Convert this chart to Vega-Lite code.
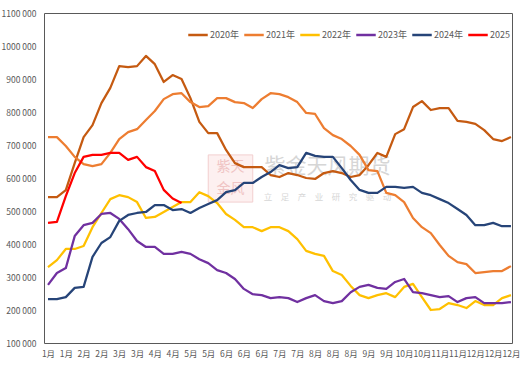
{
  "$schema": "https://vega.github.io/schema/vega-lite/v6.json",
  "width": 468,
  "height": 330,
  "autosize": {"type": "none"},
  "padding": {"left": 44, "top": 13, "right": 15, "bottom": 31},
  "background": "white",
  "config": {
    "view": {"stroke": "#595959", "strokeWidth": 1},
    "font": "Noto Sans CJK SC",
    "axis": {"labelFont": "Noto Sans CJK SC", "labelColor": "#595959", "labelFontSize": 8.5, "ticks": false, "grid": false, "domain": false, "title": null, "labelOverlap": false}
  },
  "encoding": {
    "x": {
      "field": "w", "type": "quantitative",
      "scale": {"domain": [0.55, 53.12], "nice": false, "zero": false},
      "axis": {
        "values": [1,3,5,7,9,11,13,15,17,19,21,23,25,27,29,31,33,35,37,39,41,43,45,47,49,51,53],
        "labelExpr": "['1月','1月','2月','2月','3月','3月','4月','4月','5月','5月','6月','6月','6月','7月','7月','8月','8月','8月','9月','9月','10月','10月','11月','11月','12月','12月','12月'][(datum.value-1)/2]",
        "labelPadding": 6, "labelOverlap": false, "labelFlush": false, "labelBound": false
      }
    },
    "y": {
      "field": "v", "type": "quantitative",
      "scale": {"domain": [100000, 1100000], "nice": false, "zero": false},
      "axis": {
        "values": [100000,200000,300000,400000,500000,600000,700000,800000,900000,1000000,1100000],
        "labelExpr": "(datum.value/1000) + ' 000'",
        "labelPadding": 8, "labelFontSize": 8.5, "labelOverlap": false, "labelFlush": false, "labelBound": false
      }
    }
  },
  "layer": [
    {
      "data": {"values": [{"w": 19.0, "w2": 24.0, "v": 527000, "v2": 670000}]},
      "mark": {"type": "rect", "fill": "#fdf0f0", "stroke": "#f2cfcf", "strokeWidth": 1},
      "encoding": {
        "x2": {"field": "w2"},
        "y2": {"field": "v2"}
      }
    },
    {
      "data": {"values": [
        {"t": "紫天", "w": 21.5, "v": 633000},
        {"t": "金风", "w": 21.5, "v": 567000}
      ]},
      "mark": {"type": "text", "color": "#f0c4c4", "align": "center", "baseline": "middle", "fontSize": 14},
      "encoding": {
        "text": {"field": "t"}
      }
    },
    {
      "data": {"values": [
        {"t": "紫金天风期货", "w": 32.4, "v": 633000, "k": "big"},
        {"t": "立　足　产　业　研　究　驱　动", "w": 32.4, "v": 542000, "k": "small"}
      ]},
      "mark": {"type": "text", "color": "#d6d6d6", "align": "center", "baseline": "middle"},
      "encoding": {
        "text": {"field": "t"},
        "size": {"field": "k", "type": "nominal", "scale": {"domain": ["big", "small"], "range": [21, 8.5]}, "legend": null}
      }
    },
    {
      "data": {"values": [
        {"w":1,"2020年":542000,"2021年":724000,"2022年":330000,"2023年":276000,"2024年":233000,"2025":464000},
        {"w":2,"2020年":542000,"2021年":724000,"2022年":351000,"2023年":312000,"2024年":233000,"2025":467000},
        {"w":3,"2020年":563000,"2021年":697000,"2022年":385000,"2023年":327000,"2024年":239000,"2025":545000},
        {"w":4,"2020年":645000,"2021年":664000,"2022年":385000,"2023年":424000,"2024年":267000,"2025":615000},
        {"w":5,"2020年":724000,"2021年":642000,"2022年":394000,"2023年":457000,"2024年":270000,"2025":664000},
        {"w":6,"2020年":760000,"2021年":636000,"2022年":451000,"2023年":464000,"2024年":361000,"2025":670000},
        {"w":7,"2020年":827000,"2021年":642000,"2022年":494000,"2023年":491000,"2024年":403000,"2025":670000},
        {"w":8,"2020年":873000,"2021年":676000,"2022年":536000,"2023年":494000,"2024年":421000,"2025":676000},
        {"w":9,"2020年":939000,"2021年":718000,"2022年":548000,"2023年":476000,"2024年":470000,"2025":676000},
        {"w":10,"2020年":936000,"2021年":739000,"2022年":542000,"2023年":445000,"2024年":488000,"2025":655000},
        {"w":11,"2020年":939000,"2021年":748000,"2022年":527000,"2023年":409000,"2024年":494000,"2025":664000},
        {"w":12,"2020年":970000,"2021年":776000,"2022年":479000,"2023年":391000,"2024年":497000,"2025":633000},
        {"w":13,"2020年":945000,"2021年":803000,"2022年":482000,"2023年":391000,"2024年":518000,"2025":621000},
        {"w":14,"2020年":891000,"2021年":839000,"2022年":497000,"2023年":370000,"2024年":518000,"2025":564000},
        {"w":15,"2020年":912000,"2021年":854000,"2022年":512000,"2023年":370000,"2024年":503000,"2025":538000},
        {"w":16,"2020年":900000,"2021年":857000,"2022年":527000,"2023年":376000,"2024年":506000,"2025":524000},
        {"w":17,"2020年":842000,"2021年":830000,"2022年":527000,"2023年":370000,"2024年":494000},
        {"w":18,"2020年":770000,"2021年":815000,"2022年":557000,"2023年":354000,"2024年":509000},
        {"w":19,"2020年":736000,"2021年":818000,"2022年":545000,"2023年":342000,"2024年":521000},
        {"w":20,"2020年":736000,"2021年":842000,"2022年":524000,"2023年":321000,"2024年":533000},
        {"w":21,"2020年":685000,"2021年":842000,"2022年":491000,"2023年":312000,"2024年":557000},
        {"w":22,"2020年":645000,"2021年":830000,"2022年":473000,"2023年":294000,"2024年":563000},
        {"w":23,"2020年":633000,"2021年":827000,"2022年":451000,"2023年":264000,"2024年":585000},
        {"w":24,"2020年":633000,"2021年":812000,"2022年":451000,"2023年":248000,"2024年":585000},
        {"w":25,"2020年":633000,"2021年":839000,"2022年":439000,"2023年":245000,"2024年":603000},
        {"w":26,"2020年":609000,"2021年":857000,"2022年":451000,"2023年":236000,"2024年":618000},
        {"w":27,"2020年":603000,"2021年":854000,"2022年":451000,"2023年":239000,"2024年":639000},
        {"w":28,"2020年":615000,"2021年":845000,"2022年":439000,"2023年":236000,"2024年":630000},
        {"w":29,"2020年":609000,"2021年":830000,"2022年":415000,"2023年":224000,"2024年":633000},
        {"w":30,"2020年":600000,"2021年":797000,"2022年":379000,"2023年":236000,"2024年":676000},
        {"w":31,"2020年":597000,"2021年":794000,"2022年":370000,"2023年":245000,"2024年":667000},
        {"w":32,"2020年":615000,"2021年":751000,"2022年":364000,"2023年":227000,"2024年":664000},
        {"w":33,"2020年":621000,"2021年":730000,"2022年":318000,"2023年":221000,"2024年":664000},
        {"w":34,"2020年":615000,"2021年":718000,"2022年":306000,"2023年":227000,"2024年":630000},
        {"w":35,"2020年":603000,"2021年":697000,"2022年":273000,"2023年":254000,"2024年":594000},
        {"w":36,"2020年":609000,"2021年":670000,"2022年":245000,"2023年":270000,"2024年":564000},
        {"w":37,"2020年":639000,"2021年":624000,"2022年":236000,"2023年":276000,"2024年":555000},
        {"w":38,"2020年":676000,"2021年":621000,"2022年":245000,"2023年":267000,"2024年":555000},
        {"w":39,"2020年":664000,"2021年":555000,"2022年":251000,"2023年":264000,"2024年":573000},
        {"w":40,"2020年":733000,"2021年":548000,"2022年":239000,"2023年":285000,"2024年":573000},
        {"w":41,"2020年":748000,"2021年":527000,"2022年":270000,"2023年":294000,"2024年":570000},
        {"w":42,"2020年":815000,"2021年":479000,"2022年":279000,"2023年":254000,"2024年":573000},
        {"w":43,"2020年":833000,"2021年":451000,"2022年":239000,"2023年":251000,"2024年":555000},
        {"w":44,"2020年":806000,"2021年":433000,"2022年":200000,"2023年":245000,"2024年":548000},
        {"w":45,"2020年":812000,"2021年":397000,"2022年":203000,"2023年":239000,"2024年":536000},
        {"w":46,"2020年":812000,"2021年":364000,"2022年":221000,"2023年":242000,"2024年":524000},
        {"w":47,"2020年":773000,"2021年":345000,"2022年":215000,"2023年":224000,"2024年":506000},
        {"w":48,"2020年":770000,"2021年":339000,"2022年":206000,"2023年":236000,"2024年":488000},
        {"w":49,"2020年":764000,"2021年":312000,"2022年":227000,"2023年":239000,"2024年":457000},
        {"w":50,"2020年":745000,"2021年":315000,"2022年":215000,"2023年":221000,"2024年":457000},
        {"w":51,"2020年":718000,"2021年":318000,"2022年":215000,"2023年":221000,"2024年":464000},
        {"w":52,"2020年":712000,"2021年":318000,"2022年":236000,"2023年":221000,"2024年":454000},
        {"w":53,"2020年":724000,"2021年":333000,"2022年":245000,"2023年":224000,"2024年":454000}
      ]},
      "transform": [
        {"fold": ["2020年", "2021年", "2022年", "2023年", "2024年", "2025"], "as": ["year", "v"]},
        {"filter": "datum.v != null"}
      ],
      "mark": {"type": "line", "strokeWidth": 2.25, "strokeJoin": "round"},
      "encoding": {
        "color": {
          "field": "year", "type": "nominal",
          "scale": {"domain": ["2020年", "2021年", "2022年", "2023年", "2024年", "2025"], "range": ["#C55A11", "#ED7D31", "#FFC000", "#7030A0", "#264478", "#FF0000"]},
          "legend": {
            "orient": "none", "legendX": 143, "legendY": 11, "direction": "horizontal", "columns": 6,
            "title": null, "symbolType": "stroke", "symbolSize": 380, "symbolStrokeWidth": 2.5,
            "labelFontSize": 9, "labelColor": "#595959", "columnPadding": 0, "labelOffset": 1
          }
        }
      }
    }
  ]
}
